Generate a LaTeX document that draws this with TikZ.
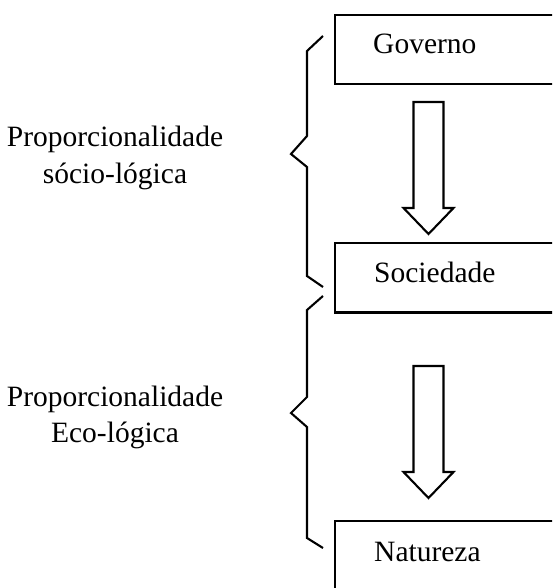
\documentclass[tikz,border=0pt]{standalone}
\usepackage{fontspec}
\setmainfont{Liberation Serif}
\usetikzlibrary{calc}
\begin{document}
\begin{tikzpicture}[x=1pt,y=-1pt,line join=miter,
  box/.style={draw,line width=2.3pt,rectangle,inner sep=0pt,anchor=north west,minimum width=240pt},
  lbl/.style={inner sep=0pt,anchor=base west,font=\fontsize{29.5}{36}\selectfont},
  side/.style={inner sep=0pt,anchor=base,font=\fontsize{29.5}{36}\selectfont},
  brace/.style={line width=2.1pt},
  barrow/.style={line width=2.1pt}]
\useasboundingbox (0,0) rectangle (552,588);
\clip (0,0) rectangle (552,588);
% boxes
\node[box,minimum height=69.3pt] (gov) at (334,13.7) {};
\node[box,minimum height=69.3pt] (soc) at (334,242) {};
\node[box,minimum height=100pt] (nat) at (334,520) {};
\node[lbl] (govt) at (373,54) {Governo};
\node[lbl] (soct) at (374,282) {Sociedade};
\node[lbl] (natt) at (374,561) {Natureza};
% block arrows
\coordinate (a1s) at (428.5,102);
\coordinate (a1e) at (428.5,234);
\coordinate (a2s) at (428.5,366);
\coordinate (a2e) at (428.5,498);
\foreach \s/\e in {a1s/a1e,a2s/a2e}{
  \draw[barrow] ($(\s)+(-15,0)$) -- ($(\s)+(15,0)$) -- ($(\e)+(15,-26)$) -- ($(\e)+(25,-26)$)
    -- (\e) -- ($(\e)+(-25,-26)$) -- ($(\e)+(-15,-26)$) -- cycle;
}
% braces
\draw[brace] (323,36) -- (307,51) -- (307,136) -- (291,154) -- (307,167) -- (307,276) -- (323,287);
\draw[brace] (323,296) -- (307,310) -- (307,397) -- (291,413) -- (307,427) -- (307,538) -- (323,548);
% side labels
\node[side] (l1a) at (115,147) {Proporcionalidade};
\node[side] (l1b) at (115,183) {sócio-lógica};
\node[side] (l2a) at (115,406) {Proporcionalidade};
\node[side] (l2b) at (115,442) {Eco-lógica};
\end{tikzpicture}
\end{document}
